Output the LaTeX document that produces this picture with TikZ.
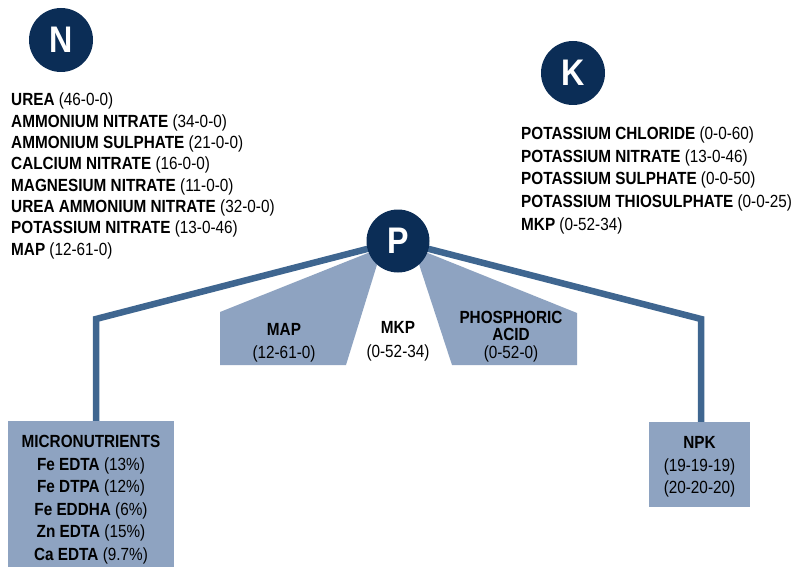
\documentclass[tikz,border=0pt]{standalone}
\usepackage{fontspec}
\setmainfont{Liberation Sans}[FakeStretch=0.87]
\usetikzlibrary{backgrounds}
\definecolor{navy}{HTML}{0B2D56}
\definecolor{linec}{HTML}{3F6690}
\definecolor{fillc}{HTML}{8EA3C1}
\begin{document}
\begin{tikzpicture}[x=1pt,y=-1pt,
  conn/.style={draw=linec, line width=6.5pt, line join=miter},
  badge/.style={circle, fill=navy, minimum size=64pt, inner sep=0pt, text=white, font=\fontsize{37}{37}\selectfont\bfseries},
  item/.style={anchor=base west, inner sep=0pt, font=\fontsize{17.6}{20}\selectfont},
  ctr/.style={anchor=base, inner sep=0pt, font=\fontsize{17.6}{20}\selectfont},
  panel/.style={fill=fillc, draw=none, inner sep=0pt, anchor=north west}]
\useasboundingbox (0,0) rectangle (801,567);

% badges
\node[badge] (N) at (61,40) {N};
\node[badge] (K) at (573,73) {K};
\node[badge, minimum size=63pt] (P) at (398,241) {P};

% boxes
\node[panel, minimum width=166pt, minimum height=150pt] (micro) at (8,421) {};
\node[panel, minimum width=101pt, minimum height=85pt] (npk) at (649,422) {};

\coordinate (lc) at (96,319);
\coordinate (rc) at (701,319);

\begin{scope}[on background layer]
  \fill[fillc] (220,312) -- (220,365) -- (346,365) -- (380,255) -- (P.center) -- cycle;
  \fill[fillc] (577,313) -- (577,365) -- (452,365) -- (416,255) -- (P.center) -- cycle;
  \draw[conn] (P.center) -- (lc) -- (micro.north -| lc);
  \draw[conn] (P.center) -- (rc) -- (npk.north -| rc);
\end{scope}

% N list
\node[item] (n1) at (11,106) {\textbf{UREA} (46-0-0)};
\node[item] (n2) at (11,127.3) {\textbf{AMMONIUM NITRATE} (34-0-0)};
\node[item] (n3) at (11,148.6) {\textbf{AMMONIUM SULPHATE} (21-0-0)};
\node[item] (n4) at (11,169.9) {\textbf{CALCIUM NITRATE} (16-0-0)};
\node[item] (n5) at (11,191.2) {\textbf{MAGNESIUM NITRATE} (11-0-0)};
\node[item] (n6) at (11,212.5) {\textbf{UREA AMMONIUM NITRATE} (32-0-0)};
\node[item] (n7) at (11,233.8) {\textbf{POTASSIUM NITRATE} (13-0-46)};
\node[item] (n8) at (11,255) {\textbf{MAP} (12-61-0)};

% K list
\node[item] (k1) at (521,140) {\textbf{POTASSIUM CHLORIDE} (0-0-60)};
\node[item] (k2) at (521,162.5) {\textbf{POTASSIUM NITRATE} (13-0-46)};
\node[item] (k3) at (521,185) {\textbf{POTASSIUM SULPHATE} (0-0-50)};
\node[item] (k4) at (521,207.5) {\textbf{POTASSIUM THIOSULPHATE} (0-0-25)};
\node[item] (k5) at (521,230) {\textbf{MKP} (0-52-34)};

% P products
\node[ctr] (map1) at (284,335) {\textbf{MAP}};
\node[ctr] (map2) at (284,358) {(12-61-0)};
\node[ctr] (mkp1) at (398,333) {\textbf{MKP}};
\node[ctr] (mkp2) at (398,357) {(0-52-34)};
\node[ctr] (pa1) at (511,323) {\textbf{PHOSPHORIC}};
\node[ctr] (pa2) at (511,340) {\textbf{ACID}};
\node[ctr] (pa3) at (511,358) {(0-52-0)};

% micronutrients
\node[ctr] (m0) at (91,447) {\textbf{MICRONUTRIENTS}};
\node[ctr] (m1) at (91,470) {\textbf{Fe EDTA} (13\%)};
\node[ctr] (m2) at (91,492.5) {\textbf{Fe DTPA} (12\%)};
\node[ctr] (m3) at (91,515) {\textbf{Fe EDDHA} (6\%)};
\node[ctr] (m4) at (91,537.5) {\textbf{Zn EDTA} (15\%)};
\node[ctr] (m5) at (91,560) {\textbf{Ca EDTA} (9.7\%)};

% NPK
\node[ctr] (p0) at (699.5,448) {\textbf{NPK}};
\node[ctr] (p1) at (699.5,471) {(19-19-19)};
\node[ctr] (p2) at (699.5,493) {(20-20-20)};
\end{tikzpicture}
\end{document}
